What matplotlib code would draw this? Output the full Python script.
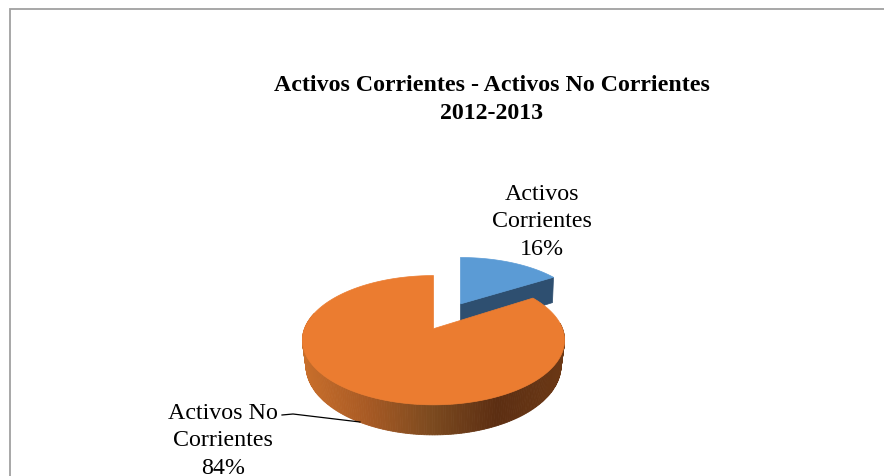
import numpy as np
import matplotlib
matplotlib.use('Agg')
import matplotlib.pyplot as plt
from matplotlib.colors import LinearSegmentedColormap
from matplotlib.patches import Polygon

categories = ['Activos\nCorrientes', 'Activos No\nCorrientes']
values = [16, 84]
title = 'Activos Corrientes - Activos No Corrientes\n2012-2013'

plt.rcParams['font.family'] = ['Liberation Serif', 'DejaVu Serif']

fig = plt.figure(figsize=(8.84, 4.77), dpi=100)
ax = fig.add_axes([0, 0, 1, 1])
ax.set_xlim(0, 884)
ax.set_ylim(477, 0)
ax.axis('off')

# outer frame of the chart
ax.plot([9.5, 9.5, 884], [477, 10, 10], color='#a0a0a0', lw=1.3, solid_joinstyle='miter')

wall = LinearSegmentedColormap.from_list('wall', ['#c96f2b', '#a85a24', '#7c4a1f', '#5c2e12', '#6b3815'])


# pie disc seen in perspective, u/v on the unit circle
def project(u, v, depth=0.0):
    w = 1 - 0.178 * v
    scale = 129 - 3.5 * depth
    return 433.5 + scale * u / w, (3.9 * v + 329.7 + 24.7 * depth) / w


def circle(a, b, n=240):
    t = np.radians(np.linspace(a, b, n))
    return np.sin(t), -np.cos(t)


shares = np.array(values) / sum(values) * 360
blue_end = shares[0]

# blue slice, pulled out along its middle angle
mid = np.radians(blue_end / 2)
dv = -0.486 * np.cos(mid)
shift_x = 27
u, v = circle(0, blue_end)
bx, by = project(u, v + dv)
bx = bx + shift_x
x0, y0 = project(0, dv)
x0 = x0 + shift_x
x1, y1 = bx[-1], by[-1]
_, y2 = project(u[-1], v[-1] + dv, 1.2)
_, y3 = project(0, dv, 1.2)
ax.add_patch(Polygon([(x0, y0), (x1, y1), (x1 - 1, y2), (x0, y3)], color='#2e4f70', lw=0.5))
ax.add_patch(Polygon(np.column_stack([np.r_[x0, bx], np.r_[y0, by]]), color='#5b9bd5', lw=0.5))

# orange side wall, shaded from left to right
u, v = circle(85, 285, 200)
xt, yt = project(u, v)
xb, yb = project(u, v, 1)
for i in range(len(u) - 1):
    c = wall(np.clip((xt[i] - 301) / 263, 0, 1))
    ax.add_patch(Polygon([(xt[i], yt[i]), (xt[i + 1], yt[i + 1]), (xb[i + 1], yb[i + 1]), (xb[i], yb[i])],
                         facecolor=c, edgecolor=c, lw=0.6))

# orange top
u, v = circle(blue_end, 360)
ox, oy = project(np.r_[0, u], np.r_[0, v])
ax.add_patch(Polygon(np.column_stack([ox, oy]), color='#eb7c30', lw=0.5))

# leader line
ax.plot([282, 293, 360], [416, 415, 423], color='black', lw=0.9)

# texts
ax.text(492, 99.5, title, ha='center', va='center', fontsize=17.2, fontweight='bold', linespacing=1.48)
ax.text(542, 222, f'{categories[0]}\n{values[0]}%', ha='center', va='center', fontsize=17.3, linespacing=1.43)
ax.text(223, 441, f'{categories[1]}\n{values[1]}%', ha='center', va='center', fontsize=17.3, linespacing=1.38)

fig.savefig('out.png', dpi=100)
